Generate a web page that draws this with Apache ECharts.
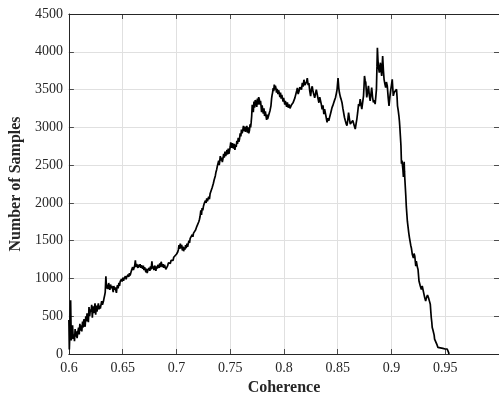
<!DOCTYPE html>
<html>
<head>
<meta charset="utf-8">
<script src="https://cdn.jsdelivr.net/npm/echarts@6/dist/echarts.min.js"></script>
<style>
html,body{margin:0;padding:0;background:#fff;}
#chart{width:499px;height:401px;}
</style>
</head>
<body>
<div id="chart"></div>
<script>
var xTickLabels = ['0.6','0.65','0.7','0.75','0.8','0.85','0.9','0.95'];
var yTickLabels = ['0','500','1000','1500','2000','2500','3000','3500','4000','4500'];

var coherence = [
0.6000,0.6004,0.6010,0.6016,0.6022,0.6028,0.6034,0.6040,0.6046,0.6052,0.6058,0.6064,0.6070,0.6076,0.6083,0.6090,0.6096,0.6102,0.6108,0.6114,
0.6120,0.6127,0.6133,0.6139,0.6145,0.6151,0.6157,0.6163,0.6169,0.6175,0.6181,0.6187,0.6193,0.6200,0.6206,0.6212,0.6218,0.6224,0.6230,0.6237,
0.6243,0.6249,0.6255,0.6261,0.6268,0.6274,0.6280,0.6286,0.6292,0.6298,0.6305,0.6312,0.6320,0.6327,0.6333,0.6338,0.6344,0.6349,0.6353,0.6358,
0.6364,0.6370,0.6375,0.6381,0.6387,0.6393,0.6400,0.6406,0.6412,0.6418,0.6424,0.6430,0.6436,0.6442,0.6447,0.6452,0.6458,0.6465,0.6471,0.6477,
0.6483,0.6489,0.6495,0.6502,0.6508,0.6514,0.6520,0.6526,0.6532,0.6538,0.6544,0.6550,0.6557,0.6563,0.6569,0.6575,0.6581,0.6587,0.6593,0.6600,
0.6606,0.6612,0.6618,0.6624,0.6630,0.6637,0.6643,0.6649,0.6655,0.6662,0.6668,0.6674,0.6680,0.6686,0.6692,0.6698,0.6704,0.6710,0.6716,0.6722,
0.6728,0.6735,0.6741,0.6747,0.6753,0.6759,0.6765,0.6772,0.6778,0.6784,0.6790,0.6797,0.6803,0.6809,0.6815,0.6821,0.6827,0.6833,0.6839,0.6845,
0.6851,0.6858,0.6864,0.6870,0.6876,0.6882,0.6889,0.6895,0.6901,0.6907,0.6913,0.6919,0.6925,0.6931,0.6937,0.6944,0.6950,0.6957,0.6963,0.6969,
0.6975,0.6981,0.6987,0.6993,0.7000,0.7006,0.7012,0.7018,0.7024,0.7030,0.7036,0.7043,0.7049,0.7055,0.7061,0.7067,0.7073,0.7079,0.7085,0.7091,
0.7098,0.7104,0.7110,0.7116,0.7122,0.7128,0.7135,0.7141,0.7147,0.7153,0.7159,0.7166,0.7172,0.7178,0.7184,0.7190,0.7196,0.7202,0.7208,0.7214,
0.7220,0.7227,0.7233,0.7239,0.7245,0.7252,0.7258,0.7264,0.7270,0.7276,0.7282,0.7288,0.7294,0.7300,0.7307,0.7313,0.7320,0.7326,0.7332,0.7338,
0.7344,0.7350,0.7356,0.7362,0.7368,0.7374,0.7381,0.7387,0.7393,0.7398,0.7402,0.7408,0.7414,0.7420,0.7427,0.7433,0.7439,0.7445,0.7452,0.7458,
0.7464,0.7470,0.7476,0.7482,0.7488,0.7494,0.7500,0.7505,0.7510,0.7516,0.7521,0.7525,0.7531,0.7537,0.7544,0.7550,0.7556,0.7562,0.7568,0.7575,
0.7581,0.7587,0.7593,0.7599,0.7605,0.7611,0.7617,0.7623,0.7630,0.7636,0.7642,0.7649,0.7655,0.7661,0.7667,0.7673,0.7679,0.7685,0.7690,0.7695,
0.7700,0.7705,0.7709,0.7715,0.7721,0.7727,0.7733,0.7741,0.7747,0.7753,0.7759,0.7765,0.7771,0.7777,0.7782,0.7787,0.7792,0.7797,0.7802,0.7808,
0.7814,0.7820,0.7827,0.7833,0.7839,0.7845,0.7848,0.7855,0.7863,0.7870,0.7879,0.7885,0.7890,0.7894,0.7900,0.7905,0.7910,0.7915,0.7920,0.7925,
0.7931,0.7937,0.7944,0.7950,0.7956,0.7962,0.7968,0.7974,0.7980,0.7986,0.7992,0.7997,0.8002,0.8008,0.8013,0.8018,0.8025,0.8032,0.8040,0.8048,
0.8056,0.8064,0.8071,0.8078,0.8086,0.8094,0.8102,0.8110,0.8118,0.8125,0.8132,0.8140,0.8148,0.8156,0.8163,0.8171,0.8178,0.8186,0.8194,0.8202,
0.8210,0.8217,0.8225,0.8232,0.8240,0.8248,0.8255,0.8263,0.8271,0.8279,0.8286,0.8294,0.8301,0.8309,0.8317,0.8325,0.8333,0.8340,0.8348,0.8355,
0.8363,0.8371,0.8378,0.8386,0.8393,0.8401,0.8409,0.8417,0.8424,0.8432,0.8440,0.8447,0.8455,0.8463,0.8471,0.8479,0.8486,0.8494,0.8503,0.8510,
0.8516,0.8525,0.8532,0.8540,0.8548,0.8555,0.8563,0.8571,0.8578,0.8586,0.8594,0.8601,0.8609,0.8617,0.8625,0.8632,0.8640,0.8648,0.8656,0.8663,
0.8671,0.8678,0.8686,0.8694,0.8701,0.8709,0.8717,0.8724,0.8732,0.8740,0.8745,0.8749,0.8755,0.8761,0.8766,0.8770,0.8778,0.8786,0.8794,0.8802,
0.8809,0.8816,0.8824,0.8832,0.8840,0.8848,0.8854,0.8860,0.8865,0.8869,0.8874,0.8878,0.8883,0.8887,0.8892,0.8897,0.8903,0.8909,0.8914,0.8918,
0.8925,0.8931,0.8938,0.8946,0.8953,0.8961,0.8969,0.8977,0.8985,0.8992,0.9000,0.9007,0.9012,0.9017,0.9025,0.9032,0.9040,0.9047,0.9052,0.9056,
0.9063,0.9069,0.9074,0.9078,0.9083,0.9088,0.9093,0.9098,0.9102,0.9107,0.9111,0.9115,0.9118,0.9121,0.9124,0.9128,0.9133,0.9138,0.9148,0.9161,
0.9167,0.9173,0.9179,0.9185,0.9194,0.9204,0.9210,0.9217,0.9222,0.9226,0.9231,0.9235,0.9241,0.9247,0.9256,0.9268,0.9278,0.9286,0.9293,0.9301,
0.9309,0.9318,0.9324,0.9330,0.9335,0.9340,0.9345,0.9349,0.9355,0.9361,0.9366,0.9370,0.9375,0.9379,0.9385,0.9392,0.9397,0.9401,0.9408,0.9416,
0.9424,0.9432,0.9447,0.9478,0.9499,0.9518,0.9524,0.9531,0.9535
];

var samples = [
450,60,320,710,180,160,380,200,260,170,330,230,300,210,290,350,260,400,310,380,
300,430,350,460,400,360,500,430,540,490,420,620,500,590,560,650,480,630,540,600,
670,520,640,560,580,670,590,640,600,620,700,650,690,740,780,820,1030,900,865,920,
860,940,890,850,920,870,900,865,820,900,850,880,845,810,880,910,870,940,900,960,
950,990,960,1010,970,1000,980,1030,990,1020,1000,1050,1020,1070,1040,1060,1100,1080,1150,1110,
1130,1170,1240,1150,1190,1170,1140,1183,1150,1190,1140,1175,1160,1130,1170,1110,1150,1118,1080,1130,
1070,1110,1087,1140,1100,1160,1120,1225,1130,1160,1110,1170,1140,1100,1160,1130,1180,1183,1140,1200,
1150,1220,1205,1150,1190,1140,1180,1160,1120,1140,1100,1170,1205,1180,1230,1200,1240,1227,1260,1240,
1280,1260,1270,1300,1320,1310,1350,1380,1440,1390,1460,1400,1445,1370,1420,1360,1410,1380,1440,1400,
1460,1420,1445,1500,1470,1530,1510,1533,1580,1550,1600,1590,1600,1640,1630,1690,1670,1686,1750,1780,
1820,1900,1840,1930,1900,1960,1990,1970,2030,2000,2060,2020,2035,2080,2050,2120,2140,2145,2200,2230,
2260,2300,2300,2360,2410,2440,2490,2495,2560,2500,2543,2620,2560,2600,2540,2587,2650,2600,2680,2620,
2652,2700,2640,2720,2650,2674,2740,2800,2783,2730,2790,2760,2720,2780,2700,2770,2740,2820,2780,2860,
2810,2848,2920,2880,2970,2920,2956,3020,2950,3010,2940,2978,3020,2930,3000,2920,2956,3040,3000,3065,
3150,3300,3261,3200,3340,3260,3360,3326,3270,3380,3300,3400,3370,3300,3350,3283,3200,3290,3239,3180,
3250,3150,3210,3152,3100,3170,3109,3090,3130,3220,3283,3380,3430,3457,3520,3480,3565,3500,3550,3522,
3460,3510,3440,3490,3457,3400,3460,3380,3430,3413,3340,3390,3370,3300,3350,3326,3270,3330,3260,3304,
3250,3239,3300,3283,3330,3348,3390,3413,3480,3522,3440,3478,3530,3543,3500,3587,3540,3630,3560,3543,
3600,3652,3560,3587,3480,3413,3500,3543,3470,3457,3390,3413,3500,3478,3380,3326,3400,3391,3300,3239,
3290,3174,3240,3217,3130,3065,3120,3087,3130,3174,3220,3261,3290,3326,3360,3391,3440,3500,3652,3520,
3457,3400,3370,3326,3250,3196,3130,3087,3050,3022,3100,3196,3110,3044,3060,3022,3090,3066,3010,2978,
3050,3110,3200,3307,3280,3373,3300,3241,3330,3417,3550,3680,3620,3592,3480,3395,3470,3548,3420,3351,
3440,3526,3400,3329,3360,3307,3400,3500,3800,4053,3900,3811,3760,3724,3800,3855,3760,3680,3820,3943,
3750,3636,3580,3526,3600,3548,3400,3285,3400,3482,3560,3636,3520,3417,3460,3482,3440,3504,3400,3285,
3220,3153,3080,3000,2880,2759,2518,2560,2540,2430,2342,2450,2544,2420,2325,2300,2100,1950,1754,1600,
1540,1490,1440,1403,1316,1272,1330,1294,1220,1162,1230,1206,1150,1118,965,900,855,900,877,800,
746,702,740,746,780,768,740,724,690,658,560,483,420,351,320,307,250,197,185,175,
120,88,80,75,66,66,50,22,0
];

var seriesData = coherence.map(function (c, i) { return [c, samples[i]]; });

var FONT = '"Liberation Serif", "Times New Roman", serif';
var TXT = '#262626';
var AX = '#262626';
var GRID = '#e0e0e0';

var chart = echarts.init(document.getElementById('chart'), null, {renderer: 'canvas'});
chart.setOption({
  animation: false,
  backgroundColor: '#ffffff',
  grid: {left: 68, right: -3, top: 14, bottom: 45, containLabel: false},
  xAxis: [{
    type: 'value', min: 0.6, max: 1.0, interval: 0.05, position: 'bottom',
    name: 'Coherence', nameLocation: 'middle', nameGap: 26,
    nameTextStyle: {fontFamily: FONT, fontWeight: 'bold', fontSize: 16, color: TXT},
    axisLine: {show: true, onZero: false, lineStyle: {color: AX, width: 1}},
    axisTick: {show: true, inside: true, length: 5, lineStyle: {color: AX, width: 0.8}},
    axisLabel: {show: true, color: TXT, fontFamily: FONT, fontSize: 14, margin: 7, showMaxLabel: false,
      formatter: function (v) { var s = +v.toFixed(2) + ''; return xTickLabels.indexOf(s) >= 0 ? s : ''; }},
    splitLine: {show: true, lineStyle: {color: GRID, width: 1}}
  }, {
    type: 'value', min: 0.6, max: 1.0, interval: 0.05, position: 'top',
    axisLine: {show: true, onZero: false, lineStyle: {color: AX, width: 1}},
    axisTick: {show: true, inside: true, length: 5, lineStyle: {color: AX, width: 0.8}},
    axisLabel: {show: false}, splitLine: {show: false}
  }],
  yAxis: [{
    type: 'value', min: 0, max: 4500, interval: 500, position: 'left',
    name: 'Number of Samples', nameLocation: 'middle', nameGap: 39,
    nameTextStyle: {fontFamily: FONT, fontWeight: 'bold', fontSize: 16, color: TXT},
    axisLine: {show: true, onZero: false, lineStyle: {color: AX, width: 1}},
    axisTick: {show: true, inside: true, length: 5, lineStyle: {color: AX, width: 0.8}},
    axisLabel: {show: true, color: TXT, fontFamily: FONT, fontSize: 14, margin: 6,
      formatter: function (v) { var s = String(v); return yTickLabels.indexOf(s) >= 0 ? s : ''; }},
    splitLine: {show: true, lineStyle: {color: GRID, width: 1}}
  }, {
    type: 'value', min: 0, max: 4500, interval: 500, position: 'right',
    axisLine: {show: true, onZero: false, lineStyle: {color: AX, width: 1}},
    axisTick: {show: true, inside: true, length: 5, lineStyle: {color: AX, width: 0.8}},
    axisLabel: {show: false}, splitLine: {show: false}
  }],
  series: [{
    type: 'line', xAxisIndex: 0, yAxisIndex: 0,
    data: seriesData, showSymbol: false, symbol: 'none',
    lineStyle: {color: '#000000', width: 1.7},
    silent: true
  }]
});
</script>
</body>
</html>
